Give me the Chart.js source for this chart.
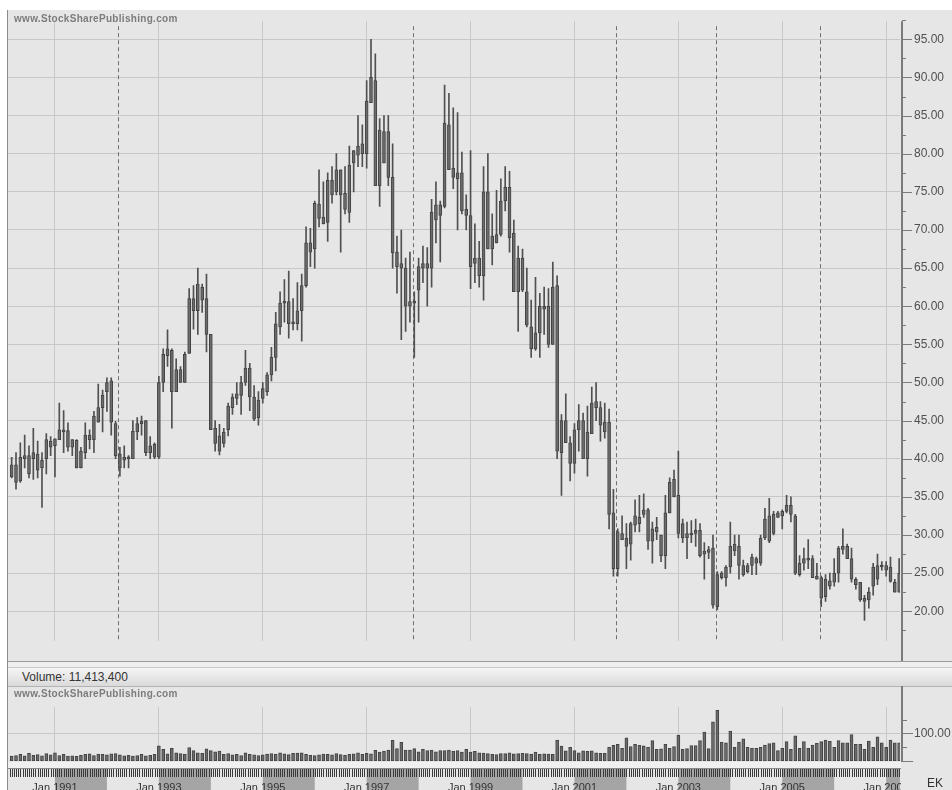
<!DOCTYPE html>
<html lang="en">
<head>
<meta charset="UTF-8">
<title>EK monthly price and volume</title>
<script src="https://cdn.jsdelivr.net/npm/chart.js@4.4.0/dist/chart.umd.min.js"></script>
<style>
    body { margin: 0; width: 952px; height: 790px; overflow: hidden; position: relative; background: #fff; font-family: Arial, "Liberation Sans", sans-serif; }
    #frame { position: absolute; left: 7px; top: 10px; width: 944px; height: 780px; background: #e6e6e6; border-left: 1px solid #8c8c8c; }
    canvas { position: absolute; left: 0; }
    #price { top: 0; }
    #vol { top: 686px; }
    .mark { position: absolute; left: 14px; font: bold 10px Arial, sans-serif; color: #7c7c7c; letter-spacing: 0.3px; }
    #gap { position: absolute; left: 8px; top: 662px; width: 944px; height: 5px; background: #efefef; }
    #volBar { position: absolute; left: 8px; top: 667px; width: 944px; height: 18px; background: linear-gradient(#f5f5f5, #dadada); border-top: 1px solid #c9c9c9; border-bottom: 1px solid #b3b3b3; }
    #volBar span { position: absolute; left: 14px; top: 2px; font: 12px Arial, sans-serif; color: #333; }
    #ek { position: absolute; left: 927px; top: 776px; font: 12px Arial, sans-serif; color: #333; }
</style>
</head>
<body>
<div id="frame"></div>
<canvas id="price" width="952" height="662"></canvas>
<div id="gap"></div>
<div id="volBar"><span>Volume: 11,413,400</span></div>
<canvas id="vol" width="952" height="104"></canvas>
<div class="mark" style="top:13px">www.StockSharePublishing.com</div>
<div class="mark" style="top:688px">www.StockSharePublishing.com</div>
<div id="ek">EK</div>
<script>
    // monthly bars, first one is Mar 1990 (months counted from Jan 1990)
    const firstMonth = 2;

    const high = [40.2,40.8,42.1,43.1,41.7,44.0,42.3,40.8,43.3,42.9,42.6,47.3,46.3,44.7,42.5,42.5,41.5,44.7,43.8,46.2,
        49.8,49.0,50.6,50.6,44.9,41.5,41.7,40.4,45.0,45.4,45.6,45.0,42.9,42.1,50.8,54.4,56.9,54.4,53.1,52.1,
        54.0,62.3,62.7,65.0,62.9,64.2,56.3,45.0,44.5,44.0,47.3,48.5,50.0,50.8,54.2,52.5,49.6,48.8,50.0,51.3,
        54.6,59.2,61.9,63.5,64.6,61.0,63.1,64.2,70.4,70.2,73.8,77.9,76.3,77.5,78.3,80.0,77.9,78.3,81.0,80.4,
        85.0,83.8,89.6,95.0,93.1,84.6,85.0,85.0,81.3,69.2,70.0,66.3,67.1,61.9,66.3,67.9,67.7,74.0,76.3,73.8,
        89.0,87.9,86.0,85.4,80.2,74.6,80.4,70.8,68.5,78.3,80.0,72.1,75.2,76.7,78.3,77.7,71.3,67.9,67.5,65.0,
        60.8,63.8,61.7,62.5,62.3,65.8,64.0,45.8,48.5,42.9,44.6,47.1,46.0,46.9,49.4,50.0,47.5,47.3,46.5,36.0,
        30.8,32.5,31.5,31.7,34.6,35.2,35.4,33.5,31.7,32.3,30.0,35.2,37.5,38.5,41.0,32.1,31.7,31.9,32.1,31.5,
        29.0,28.5,30.0,25.2,25.2,26.0,31.7,30.0,30.0,26.7,26.3,27.5,27.1,30.0,33.5,34.8,33.1,33.1,33.3,35.2,
        35.0,32.7,27.3,28.3,29.4,27.3,26.3,24.6,24.8,25.0,26.9,28.5,30.8,28.8,28.3,24.4,23.8,22.1,23.1,26.3,
        27.5,26.5,26.5,27.1,24.2,26.9];
    const low = [37.5,36.0,36.9,38.8,37.5,37.3,37.5,33.6,38.0,40.4,37.6,42.5,40.8,41.0,40.4,38.8,38.8,40.0,41.3,40.8,
        44.8,43.5,46.2,43.1,40.0,37.7,38.8,38.8,40.0,42.5,43.1,40.4,40.0,40.0,40.0,48.8,52.1,44.0,48.8,50.0,
        50.0,53.8,57.0,56.3,59.2,54.0,43.8,41.0,40.5,41.5,43.0,45.8,47.1,45.8,49.6,46.3,45.0,44.4,47.3,48.3,
        50.2,51.5,56.3,57.9,55.8,56.9,56.9,55.4,62.5,65.2,65.0,70.4,70.8,68.5,73.5,74.6,67.1,72.1,71.0,75.0,
        78.3,78.3,78.1,86.7,75.8,73.1,78.8,75.8,65.0,61.7,55.6,56.7,57.9,53.3,57.9,63.1,60.0,62.5,68.3,65.8,
        72.9,77.9,75.4,70.0,72.1,70.0,62.3,63.1,62.5,60.8,67.5,65.4,68.3,69.2,72.5,67.1,61.9,56.7,61.9,57.3,
        53.3,54.2,53.3,56.3,54.6,55.0,40.0,35.2,42.1,37.1,38.1,41.0,40.0,37.7,43.3,45.0,42.3,42.7,30.8,24.6,
        24.6,29.4,25.6,26.7,30.4,30.4,32.3,28.1,26.3,29.4,26.5,25.6,32.9,35.0,29.6,29.0,26.9,29.0,28.5,27.1,
        24.2,26.9,20.4,20.2,24.2,23.3,25.0,27.3,24.2,24.6,25.0,24.8,24.8,26.0,29.4,29.0,30.0,32.3,30.8,32.9,
        31.7,24.8,24.6,25.4,25.6,24.4,24.2,20.6,21.3,22.9,23.3,23.8,27.5,26.9,23.8,22.9,21.3,18.8,20.4,22.1,
        23.5,25.4,24.6,23.8,22.5,22.5];
    // candle bodies (all candles are drawn in the same grey, so only top and bottom were read)
    const bodyHi = [39.2,39.2,40.2,40.4,40.4,40.8,40.6,39.8,42.5,42.3,42.6,43.8,43.8,43.7,42.5,42.4,41.0,43.1,43.1,45.6,
        46.7,48.3,50.0,50.2,44.6,40.6,40.2,40.2,43.6,44.6,44.9,45.0,41.7,41.9,50.0,53.7,54.4,54.2,51.7,51.7,
        53.7,61.0,61.0,62.9,62.5,61.0,56.3,44.0,43.0,43.5,46.9,48.1,48.5,50.0,51.9,51.9,48.1,47.7,49.2,51.0,
        53.3,57.7,60.4,60.6,60.6,57.9,59.4,62.7,68.3,68.3,73.5,73.4,71.7,76.5,76.5,77.9,77.9,74.8,78.5,80.4,
        81.0,81.3,86.9,90.0,89.6,83.1,82.9,82.9,76.9,67.1,65.6,65.0,60.6,60.6,65.2,65.6,65.6,72.3,73.3,73.3,
        84.0,83.8,78.1,77.5,77.5,72.7,71.9,66.3,66.3,75.0,75.0,69.2,69.4,73.8,75.6,75.6,69.6,66.3,66.3,61.9,
        57.3,56.5,60.0,60.0,60.0,62.5,62.7,45.0,45.0,42.1,43.8,45.0,45.0,43.5,47.3,47.5,46.7,44.8,44.8,32.9,
        30.4,30.2,29.6,31.5,32.5,32.3,33.3,33.3,30.8,31.0,30.0,32.9,36.9,37.3,35.2,31.5,30.2,30.2,30.6,30.6,
        27.9,28.1,28.3,24.8,25.0,25.8,28.5,28.8,28.5,26.0,26.0,27.1,26.9,29.6,32.1,32.5,32.7,32.9,33.1,33.9,
        33.9,32.5,26.3,26.9,26.9,26.9,24.6,24.4,24.2,24.0,25.0,28.3,28.5,28.5,26.9,24.2,23.8,21.7,22.5,25.8,
        26.0,26.0,26.0,25.8,23.8,25.0];
    const bodyLo = [37.6,36.9,37.1,40.0,38.0,40.0,38.5,38.8,40.0,41.5,41.7,42.5,43.5,41.5,41.5,38.8,38.8,40.8,42.5,42.5,
        44.8,46.7,48.8,44.8,40.4,38.8,39.8,40.0,40.0,43.5,44.6,40.8,40.8,40.2,40.2,50.0,53.5,48.8,48.8,50.0,
        50.0,53.8,59.4,59.4,60.8,56.3,43.8,42.0,41.0,42.0,43.8,46.7,47.9,48.3,50.0,48.1,45.2,45.4,47.9,48.8,
        51.0,53.3,57.3,60.4,57.7,57.7,57.7,59.4,62.7,67.1,67.5,71.5,70.8,71.0,74.6,75.0,74.6,72.7,72.3,78.8,
        79.8,80.0,80.0,86.7,75.8,75.8,78.8,76.9,67.0,65.2,65.0,60.0,60.0,60.4,62.1,65.0,65.0,65.0,71.3,71.9,
        73.1,77.9,76.9,76.7,72.5,71.9,65.2,65.6,64.0,64.0,67.5,67.5,68.3,69.4,73.8,69.0,61.9,61.9,62.1,57.5,
        54.4,54.4,56.5,59.6,55.0,55.0,41.0,40.8,42.1,39.4,39.4,43.8,40.0,40.0,43.3,46.7,44.4,43.5,32.7,25.6,
        25.6,29.4,28.5,28.8,31.3,31.5,32.7,29.2,29.2,30.4,27.3,27.3,32.9,35.0,30.2,29.6,29.6,30.0,30.2,27.3,
        27.5,27.7,20.8,20.6,24.4,24.4,25.8,27.9,26.0,24.8,25.2,26.0,26.3,26.3,29.6,29.2,30.2,32.3,32.5,33.1,
        32.7,25.0,24.8,26.3,26.7,24.4,24.2,21.7,21.9,23.3,23.8,25.0,28.1,26.9,24.2,23.5,21.5,21.3,21.5,23.3,
        24.2,25.8,25.4,23.9,22.5,22.5];
    // monthly volume, in the units of the volume axis
    const volume = [18,20,24,19,28,21,23,19,27,22,30,20,24,18,19,17,21,24,26,20,
        25,24,22,26,27,22,19,21,18,20,24,19,21,24,55,42,26,46,30,27,
        25,49,38,30,28,44,38,33,36,24,27,22,24,20,30,24,22,20,22,25,
        27,24,30,26,23,28,29,30,24,21,20,22,25,24,22,27,23,21,24,26,
        30,24,28,26,39,32,36,40,75,45,68,40,40,45,33,42,38,40,33,38,
        38,40,35,38,32,42,32,35,30,29,27,24,23,27,27,30,26,27,28,27,
        25,32,24,26,25,24,76,54,37,50,38,30,37,35,37,30,28,28,50,57,
        60,46,84,52,60,57,55,50,74,42,44,60,46,52,94,42,45,56,56,74,
        105,45,142,184,68,66,108,50,69,80,50,46,46,50,58,63,66,38,46,70,
        42,91,46,70,46,58,64,70,76,71,50,74,66,66,96,60,60,42,72,50,
        88,66,50,76,66,66];

    // axis content
    const gridMonths = [12, 36, 60, 84, 108, 132, 156, 180, 204];
    const tickLabels = ['Jan 1991', 'Jan 1993', 'Jan 1995', 'Jan 1997', 'Jan 1999', 'Jan 2001', 'Jan 2003', 'Jan 2005', 'Jan 2007'];
    const priceTicks = [20, 25, 30, 35, 40, 45, 50, 55, 60, 65, 70, 75, 80, 85, 90, 95];
    const volumeTicks = [0, 50, 100, 150];
    const eventMonths = [26.6, 94.8, 141.7, 164.7, 188.7]; // dashed markers

    const xMin = 1.15, xMax = 207.2;
    const gridColor = '#c7c7c7';
    const candleFill = '#6c6c6c', candleEdge = '#424242';

    // dashed markers + the right hand axis with major/minor ticks
    const priceDecor = {
        id: 'priceDecor',
        beforeDatasetsDraw(chart) {
            const { ctx, chartArea: a, scales: { x } } = chart;
            ctx.save();
            ctx.strokeStyle = '#6f6f6f';
            ctx.lineWidth = 1;
            ctx.setLineDash([4, 3]);
            eventMonths.forEach(m => {
                const px = Math.round(x.getPixelForValue(m)) + 0.5;
                ctx.beginPath();
                ctx.moveTo(px, a.top + 5);
                ctx.lineTo(px, a.bottom);
                ctx.stroke();
            });
            ctx.restore();
        },
        afterDraw(chart) {
            const { ctx, chartArea: a, scales: { y } } = chart;
            ctx.save();
            ctx.strokeStyle = '#7a7a7a';
            ctx.lineWidth = 2;
            ctx.beginPath();
            ctx.moveTo(a.right + 2, a.top);
            ctx.lineTo(a.right + 2, chart.height);
            ctx.stroke();
            ctx.lineWidth = 1;
            for (let v = 17.5; v <= 97.5; v += 2.5) {
                const py = Math.round(y.getPixelForValue(v)) + 0.5;
                const len = v % 5 === 0 ? 10 : 4;
                ctx.beginPath();
                ctx.moveTo(a.right + 2, py);
                ctx.lineTo(a.right + 2 + len, py);
                ctx.stroke();
            }
            // bottom edge of the price panel
            ctx.strokeStyle = '#9a9a9a';
            ctx.beginPath();
            ctx.moveTo(a.left, chart.height - 0.5);
            ctx.lineTo(chart.width, chart.height - 0.5);
            ctx.stroke();
            ctx.restore();
        }
    };

    // time strip under the volume panel + right hand axis
    const volDecor = {
        id: 'volDecor',
        beforeDraw(chart) {
            const { ctx, chartArea: a, scales: { x } } = chart;
            const top = a.bottom + 1;
            ctx.save();
            ctx.fillStyle = '#f0f0f0';
            ctx.fillRect(a.left, top, chart.width - a.left, 6);
            ctx.fillStyle = '#a5a5a5';
            for (let m = 12; m < xMax; m += 24) {
                const x0 = x.getPixelForValue(m);
                const x1 = Math.min(x.getPixelForValue(m + 12), a.right);
                ctx.fillRect(x0, top + 7, x1 - x0, chart.height - top - 7);
            }
            ctx.strokeStyle = '#8a8a8a';
            ctx.lineWidth = 1;
            ctx.beginPath();
            ctx.moveTo(a.left, top + 6.5);
            ctx.lineTo(chart.width, top + 6.5);
            ctx.stroke();
            ctx.restore();
        },
        afterDraw(chart) {
            const { ctx, chartArea: a, scales: { x, y } } = chart;
            const top = a.bottom + 1;
            ctx.save();
            // month comb
            ctx.strokeStyle = '#3a3a3a';
            ctx.lineWidth = 1;
            for (let m = 1.5; m < xMax; m += 0.5) {
                const px = Math.round(x.getPixelForValue(m)) + 0.5;
                ctx.beginPath();
                ctx.moveTo(px, top + 7);
                ctx.lineTo(px, top + 15);
                ctx.stroke();
            }
            // cover the part of the strip right of the axis
            ctx.fillStyle = '#e6e6e6';
            ctx.fillRect(a.right + 1, top, chart.width - a.right, chart.height - top);
            ctx.strokeStyle = '#7a7a7a';
            ctx.lineWidth = 2;
            ctx.beginPath();
            ctx.moveTo(a.right + 2, 0);
            ctx.lineTo(a.right + 2, a.bottom + 1);
            ctx.stroke();
            ctx.lineWidth = 1;
            volumeTicks.forEach(v => {
                const py = Math.round(y.getPixelForValue(v)) + 0.5;
                const len = v % 100 === 0 ? 11 : 5;
                ctx.beginPath();
                ctx.moveTo(a.right + 2, py);
                ctx.lineTo(a.right + 2 + len, py);
                ctx.stroke();
            });
            ctx.restore();
        }
    };

    const noLegend = { legend: { display: false }, tooltip: { enabled: false } };

    const priceChart = new Chart(document.getElementById('price'), {
        type: 'bar',
        data: {
            datasets: [{
                data: bodyLo.map((v, i) => ({ x: firstMonth + i, y: [v, bodyHi[i]] })),
                backgroundColor: candleFill,
                borderColor: candleEdge,
                borderWidth: 1,
                borderSkipped: false,
                minBarLength: 2,
                barThickness: 3,
                grouped: false
            }, {
                data: low.map((v, i) => ({ x: firstMonth + i, y: [v, high[i]] })),
                backgroundColor: '#505050',
                barThickness: 1,
                grouped: false
            }]
        },
        options: {
            responsive: false,
            animation: false,
            layout: { padding: { left: 8, top: 10, right: 0, bottom: 2 } },
            plugins: noLegend,
            scales: {
                x: {
                    type: 'linear', min: xMin, max: xMax, offset: false,
                    afterBuildTicks: s => { s.ticks = gridMonths.map(v => ({ value: v })); },
                    ticks: { display: false },
                    grid: { color: gridColor, drawTicks: false, offset: false },
                    border: { display: false },
                    afterFit: s => { s.height = 0; }
                },
                y: {
                    position: 'right', min: 16.125, max: 97.375,
                    afterBuildTicks: s => { s.ticks = priceTicks.map(v => ({ value: v })); },
                    ticks: { callback: v => v.toFixed(2), color: '#505050', font: { family: 'Arial', size: 12 }, padding: 14 },
                    grid: { color: gridColor, drawTicks: false },
                    border: { display: false },
                    afterFit: s => { s.width = 52; }
                }
            }
        },
        plugins: [priceDecor]
    });

    const volChart = new Chart(document.getElementById('vol'), {
        type: 'bar',
        data: {
            datasets: [{
                data: volume.map((v, i) => ({ x: firstMonth + i, y: v })),
                backgroundColor: candleFill,
                borderColor: candleEdge,
                borderWidth: 1,
                borderSkipped: false,
                barThickness: 3
            }]
        },
        options: {
            responsive: false,
            animation: false,
            layout: { padding: { left: 8, top: 0, right: 0, bottom: 0 } },
            plugins: noLegend,
            scales: {
                x: {
                    type: 'linear', min: xMin, max: xMax, offset: false,
                    afterBuildTicks: s => { s.ticks = gridMonths.map(v => ({ value: v })); },
                    ticks: {
                        autoSkip: false, maxRotation: 0, padding: 20,
                        color: '#333', font: { family: 'Arial', size: 11 },
                        callback: v => tickLabels[gridMonths.indexOf(v)]
                    },
                    grid: { color: gridColor, drawTicks: false, offset: false },
                    border: { display: false },
                    afterFit: s => { s.height = 29; }
                },
                y: {
                    position: 'right', min: 0, max: 195,
                    afterBuildTicks: s => { s.ticks = [{ value: 100 }]; },
                    ticks: { callback: v => v.toFixed(2), color: '#505050', font: { family: 'Arial', size: 12 }, padding: 14 },
                    grid: { color: gridColor, drawTicks: false },
                    border: { display: false },
                    afterFit: s => { s.width = 52; }
                }
            }
        },
        plugins: [volDecor]
    });
</script>
</body>
</html>
